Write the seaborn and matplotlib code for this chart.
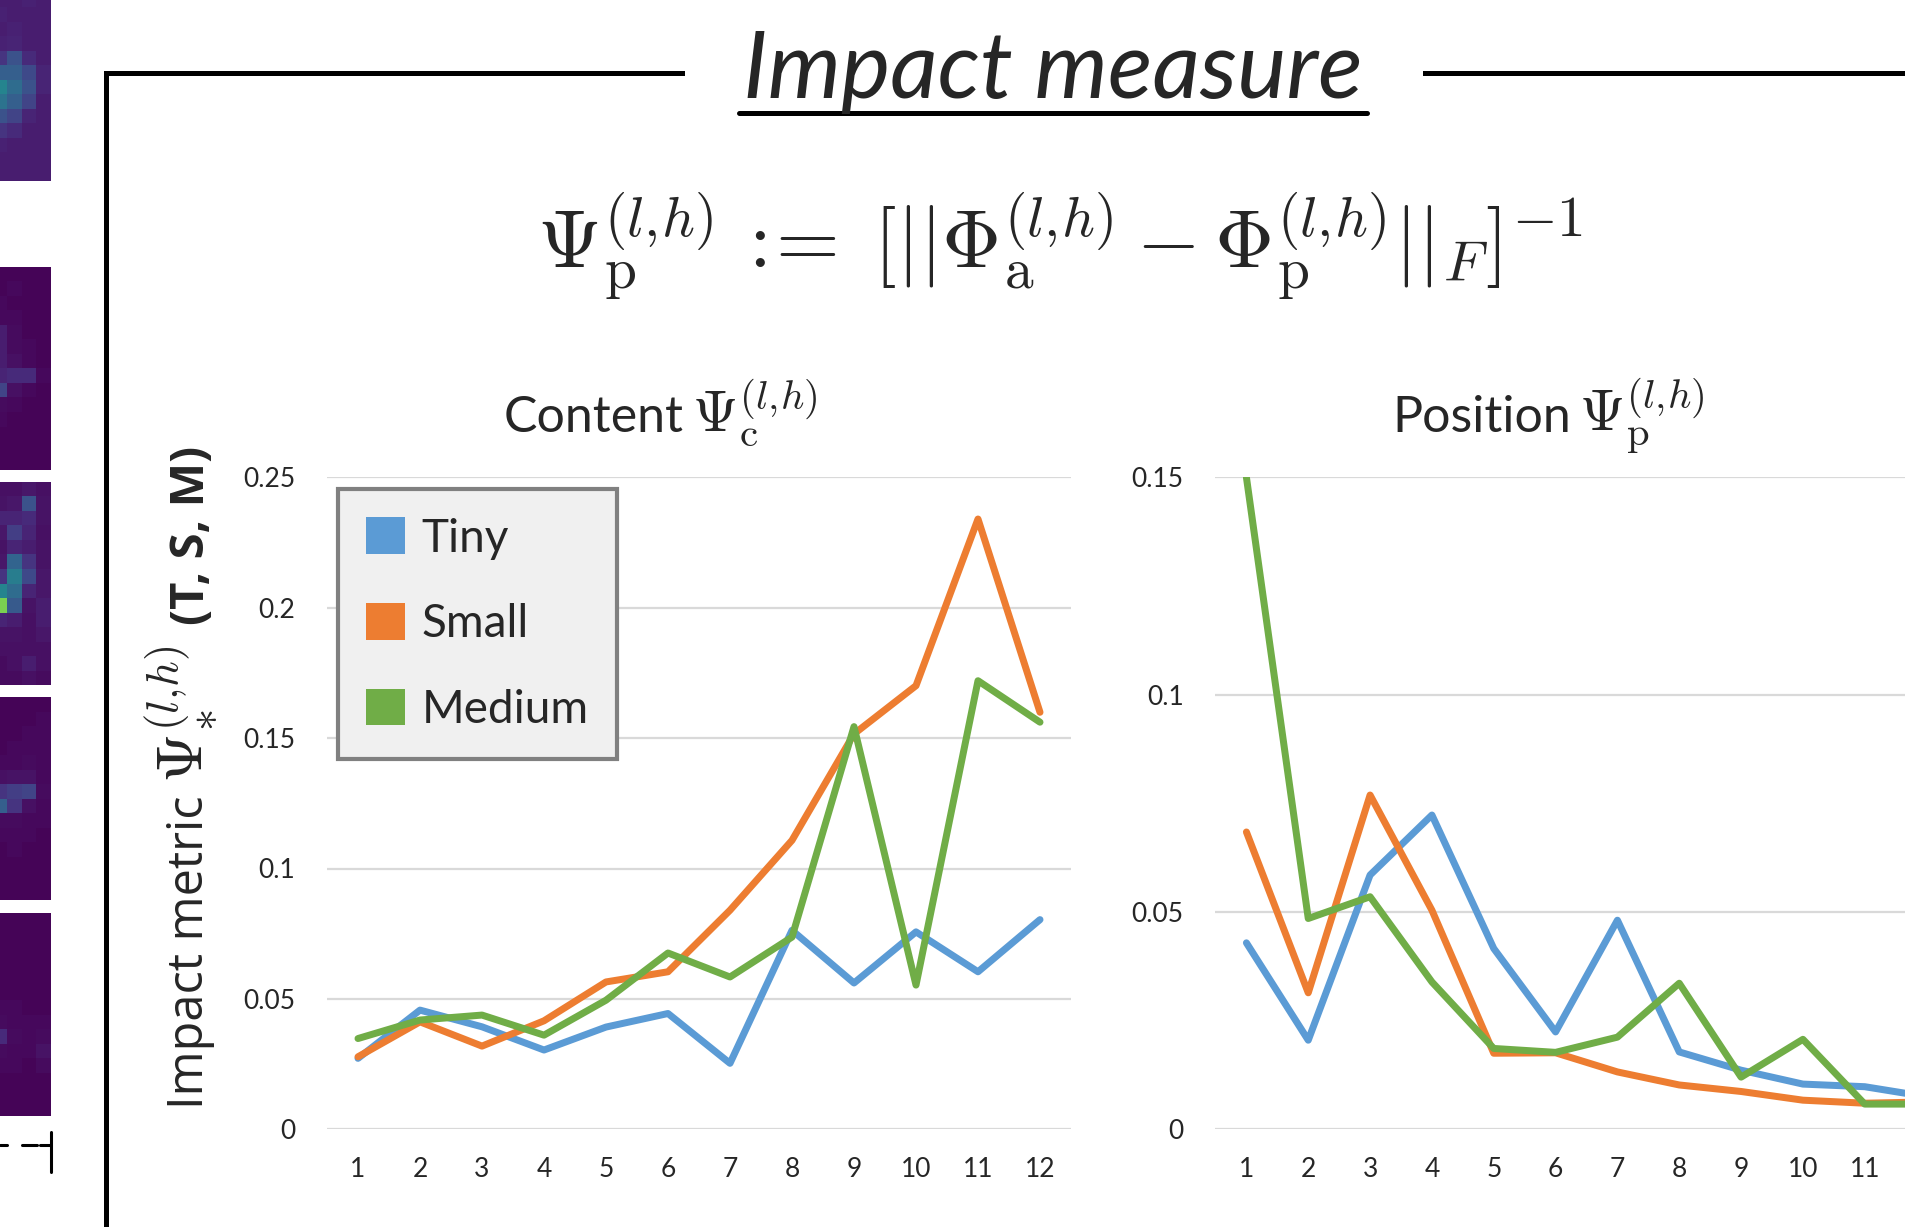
import matplotlib
matplotlib.use("Agg")
import matplotlib.pyplot as plt
from matplotlib.lines import Line2D
from matplotlib.patches import Patch
import numpy as np
import pandas as pd
import seaborn as sns

# ---- data -------------------------------------------------------------
layers = list(range(1, 13))
models = ["Tiny", "Small", "Medium"]
colors = ["#5B9BD5", "#ED7D31", "#70AD47"]

content_tiny = [0.0272, 0.0457, 0.0393, 0.0304, 0.0392, 0.0444,
                0.0253, 0.0763, 0.0561, 0.0757, 0.0604, 0.0804]
content_small = [0.0278, 0.0412, 0.0319, 0.0416, 0.0565, 0.0604,
                 0.0840, 0.1108, 0.1516, 0.1701, 0.2340, 0.1599]
content_medium = [0.0348, 0.0419, 0.0438, 0.0361, 0.0495, 0.0676,
                  0.0584, 0.0737, 0.1544, 0.0553, 0.1720, 0.1561]

position_tiny = [0.0429, 0.0205, 0.0585, 0.0723, 0.0416, 0.0224,
                 0.0481, 0.0178, 0.0136, 0.0104, 0.0098, 0.0075]
position_small = [0.0684, 0.0314, 0.0769, 0.0504, 0.0175, 0.0176,
                  0.0132, 0.0102, 0.0087, 0.0067, 0.0060, 0.0063]
position_medium = [0.1500, 0.0485, 0.0535, 0.0339, 0.0186, 0.0177,
                   0.0212, 0.0336, 0.0120, 0.0207, 0.0058, 0.0058]

content_yticks = [0, 0.05, 0.1, 0.15, 0.2, 0.25]
content_ylabels = ["0", "0.05", "0.1", "0.15", "0.2", "0.25"]
position_yticks = [0, 0.05, 0.1, 0.15]
position_ylabels = ["0", "0.05", "0.1", "0.15"]

# attention-map strips on the left edge (4 visible columns each)
attn_a = [[0.08, 0.09, 0.08, 0.08], [0.08, 0.08, 0.09, 0.08],
          [0.09, 0.08, 0.08, 0.08], [0.08, 0.09, 0.08, 0.08],
          [0.09, 0.10, 0.08, 0.08], [0.15, 0.25, 0.12, 0.08],
          [0.30, 0.30, 0.22, 0.10], [0.45, 0.35, 0.25, 0.10],
          [0.38, 0.30, 0.20, 0.08], [0.25, 0.20, 0.10, 0.08],
          [0.15, 0.12, 0.08, 0.08], [0.09, 0.08, 0.08, 0.08],
          [0.08, 0.08, 0.08, 0.08], [0.08, 0.08, 0.08, 0.08]]
attn_b = [[0.01, 0.01, 0.01, 0.01], [0.01, 0.02, 0.01, 0.01],
          [0.02, 0.01, 0.01, 0.01], [0.02, 0.02, 0.01, 0.01],
          [0.08, 0.03, 0.01, 0.01], [0.08, 0.03, 0.02, 0.01],
          [0.08, 0.04, 0.02, 0.01], [0.10, 0.12, 0.12, 0.02],
          [0.20, 0.04, 0.02, 0.01], [0.03, 0.02, 0.01, 0.01],
          [0.02, 0.01, 0.01, 0.01], [0.01, 0.01, 0.01, 0.01],
          [0.01, 0.01, 0.01, 0.01], [0.01, 0.01, 0.01, 0.01]]
attn_c = [[0.04, 0.04, 0.06, 0.04], [0.05, 0.06, 0.25, 0.05],
          [0.10, 0.10, 0.12, 0.05], [0.06, 0.18, 0.10, 0.04],
          [0.05, 0.10, 0.08, 0.05], [0.06, 0.32, 0.15, 0.05],
          [0.15, 0.42, 0.22, 0.06], [0.45, 0.35, 0.10, 0.06],
          [0.80, 0.28, 0.05, 0.08], [0.10, 0.08, 0.04, 0.08],
          [0.05, 0.05, 0.04, 0.06], [0.04, 0.04, 0.04, 0.04],
          [0.03, 0.04, 0.08, 0.04], [0.03, 0.03, 0.04, 0.03]]
attn_d = [[0.01, 0.01, 0.01, 0.01], [0.01, 0.01, 0.01, 0.02],
          [0.01, 0.01, 0.02, 0.02], [0.01, 0.02, 0.02, 0.02],
          [0.02, 0.02, 0.03, 0.02], [0.04, 0.05, 0.05, 0.02],
          [0.15, 0.18, 0.20, 0.03], [0.30, 0.15, 0.04, 0.02],
          [0.03, 0.03, 0.02, 0.02], [0.02, 0.02, 0.02, 0.01],
          [0.01, 0.02, 0.01, 0.01], [0.01, 0.01, 0.01, 0.01],
          [0.01, 0.01, 0.01, 0.01], [0.01, 0.01, 0.01, 0.01]]
attn_e = [[0.01, 0.01, 0.01, 0.01], [0.01, 0.01, 0.01, 0.01],
          [0.01, 0.01, 0.01, 0.01], [0.01, 0.01, 0.01, 0.01],
          [0.01, 0.01, 0.01, 0.01], [0.01, 0.01, 0.01, 0.01],
          [0.02, 0.02, 0.01, 0.01], [0.03, 0.02, 0.02, 0.02],
          [0.12, 0.03, 0.02, 0.03], [0.03, 0.02, 0.02, 0.05],
          [0.02, 0.02, 0.01, 0.03], [0.01, 0.01, 0.01, 0.01],
          [0.01, 0.01, 0.01, 0.01], [0.01, 0.01, 0.01, 0.01]]

# ---- style ------------------------------------------------------------
sns.set_theme(style="white")
plt.rcParams["font.family"] = ["Lato", "DejaVu Sans"]
plt.rcParams["mathtext.fontset"] = "cm"

W, H = 1906, 1227
fig = plt.figure(figsize=(W / 100, H / 100), dpi=100)
fig.patch.set_facecolor("white")


def fx(x):
    return x / W


def fy(y):
    return 1 - y / H


def long_form(series):
    frames = []
    for name, vals in zip(models, series):
        frames.append(pd.DataFrame({"layer": layers, "value": vals, "model": name}))
    return pd.concat(frames, ignore_index=True)


content_df = long_form([content_tiny, content_small, content_medium])
position_df = long_form([position_tiny, position_small, position_medium])
palette = dict(zip(models, colors))

LW = 7 * 72 / 100
tick_fs = 19


def style_axes(ax, xticks, yticks, ylabels, ymax):
    ax.set_xlim(0.5, 12.5)
    ax.set_ylim(0, ymax)
    ax.set_xticks(xticks)
    ax.set_xticklabels([str(v) for v in xticks], fontsize=tick_fs)
    ax.set_yticks(yticks)
    ax.set_yticklabels(ylabels, fontsize=tick_fs)
    ax.tick_params(axis="both", length=0)
    ax.tick_params(axis="x", pad=20)
    ax.tick_params(axis="y", pad=23)
    ax.yaxis.grid(True, color="#d9d9d9", linewidth=1.6)
    ax.xaxis.grid(False)
    for s in ax.spines.values():
        s.set_visible(False)
    ax.set_xlabel("")
    ax.set_ylabel("")
    ax.set_facecolor("none")
    ax.set_axisbelow(True)


# Content panel
ax1 = fig.add_axes([fx(327), fy(1129.3), fx(744), 652 / H])
sns.lineplot(data=content_df, x="layer", y="value", hue="model", palette=palette,
             linewidth=LW, ax=ax1, legend=False)
style_axes(ax1, layers, content_yticks, content_ylabels, 0.25)

# Position panel (runs past the right edge of the canvas; layer 12 falls outside)
ax2 = fig.add_axes([fx(1215.5), fy(1129.3), fx(742), 652 / H])
sns.lineplot(data=position_df, x="layer", y="value", hue="model", palette=palette,
             linewidth=LW, ax=ax2, legend=False)
style_axes(ax2, layers[:11], position_yticks, position_ylabels, 0.15)

# Legend
handles = [Patch(facecolor=c, edgecolor="none", label=m) for m, c in zip(models, colors)]
leg = fig.legend(handles=handles, loc="upper left",
                 bbox_to_anchor=(fx(338), fy(489)), bbox_transform=fig.transFigure,
                 fontsize=33, frameon=True, fancybox=False,
                 handlelength=0.85, handleheight=0.85, handletextpad=0.35,
                 labelspacing=0.95, borderpad=0.62, borderaxespad=0)
frame = leg.get_frame()
frame.set_facecolor("#f0f0f0")
frame.set_edgecolor("#808080")
frame.set_linewidth(3)
frame.set_alpha(1)

# Panel titles: word plus a larger math symbol
fig.text(fx(684), fy(432), "Content", fontsize=36, ha="right", va="baseline")
fig.text(fx(692), fy(432), r"$\Psi_{\mathrm{c}}^{(l,\!h)}$", fontsize=42,
         ha="left", va="baseline")
fig.text(fx(1571), fy(432), "Position", fontsize=36, ha="right", va="baseline")
fig.text(fx(1579), fy(432), r"$\Psi_{\mathrm{p}}^{(l,\!h)}$", fontsize=42,
         ha="left", va="baseline")

# Y-axis title in three pieces
fig.text(fx(190), fy(952), "Impact metric", rotation=90, fontsize=35,
         family=["Open Sans", "DejaVu Sans"], ha="center", va="center")
fig.text(fx(180), fy(714), r"$\Psi_{*}^{(l,\!h)}$", rotation=90, fontsize=46,
         ha="center", va="center")
fig.text(fx(192), fy(535), "(T, S, M)", rotation=90, fontsize=34, fontweight="bold",
         family=["Open Sans", "DejaVu Sans"], ha="center", va="center")

# Definition formula
fig.text(fx(1060), fy(267),
         r"$\Psi_{\mathrm{p}}^{(l,\!h)}\,:\!\!=\;[||\Phi_{\mathrm{a}}^{(l,\!h)}-\Phi_{\mathrm{p}}^{(l,\!h)}||_F]^{-1}$",
         fontsize=59, ha="center", va="baseline")

# Section heading with underline
fig.text(fx(1053), fy(98), "Impact measure", fontsize=67, style="italic",
         fontweight="normal", ha="center", va="baseline")
fig.add_artist(Line2D([fx(739), fx(1367)], [fy(112.5), fy(112.5)],
                      color="black", linewidth=5 * 0.72, transform=fig.transFigure))

# Box outline around the section
frame_kw = dict(color="black", linewidth=5 * 0.72, transform=fig.transFigure,
                solid_capstyle="projecting")
fig.add_artist(Line2D([fx(106), fx(106)], [fy(73), fy(1240)], **frame_kw))
fig.add_artist(Line2D([fx(106), fx(682)], [fy(73), fy(73)], **frame_kw))
fig.add_artist(Line2D([fx(1425), fx(1920)], [fy(73), fy(73)], **frame_kw))

# Attention-map strips at the left edge
strips = [(attn_a, -22), (attn_b, 267), (attn_c, 482), (attn_d, 697), (attn_e, 913)]
for arr, top in strips:
    hax = fig.add_axes([fx(-7), fy(top + 203), fx(58), 203 / H])
    sns.heatmap(np.array(arr), ax=hax, cmap="viridis", vmin=0, vmax=1, cbar=False,
                xticklabels=False, yticklabels=False)
    hax.set_axis_off()

# dashed scale marker under the strips
dash_kw = dict(color="black", linewidth=2.2, transform=fig.transFigure)
for x0, x1 in [(0, 7), (22, 37), (40, 51)]:
    fig.add_artist(Line2D([fx(x0), fx(x1)], [fy(1145), fy(1145)], **dash_kw))
fig.add_artist(Line2D([fx(51), fx(51)], [fy(1132), fy(1172)], **dash_kw))

fig.savefig("out.png", dpi=100, facecolor="white")
